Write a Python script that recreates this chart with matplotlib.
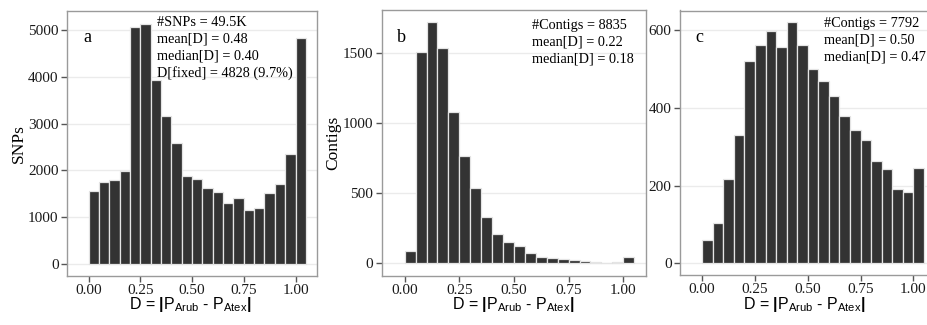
import matplotlib
matplotlib.use("Agg")
import matplotlib.pyplot as plt
import numpy as np

plt.rcParams["font.family"] = ["Liberation Serif", "DejaVu Serif"]
plt.rcParams["mathtext.fontset"] = "custom"
plt.rcParams["mathtext.rm"] = "Liberation Sans"
plt.rcParams["mathtext.bf"] = "Liberation Sans:bold"

# histogram counts per 0.05-wide bin of D (last bin holds D = 1)
snp_counts = [1548, 1756, 1799, 1978, 5071, 5143, 3936, 3164, 2588, 1871, 1821,
              1613, 1527, 1305, 1405, 1147, 1183, 1513, 1713, 2344, 4828]
contig_counts_b = [90, 1512, 1721, 1536, 1083, 769, 540, 329, 210, 152, 121,
                   76, 43, 36, 29, 21, 14, 7, 2, 10, 43]
contig_counts_c = [59, 103, 217, 330, 521, 561, 597, 555, 621, 561, 500,
                   470, 431, 378, 344, 317, 264, 243, 190, 184, 245]

letters = ["a", "b", "c"]
ylabels = ["SNPs", "Contigs", ""]
notes = [
    ["#SNPs = 49.5K", "mean[D] = 0.48", "median[D] = 0.40", "D[fixed] = 4828 (9.7%)"],
    ["#Contigs = 8835", "mean[D] = 0.22", "median[D] = 0.18"],
    ["#Contigs = 7792", "mean[D] = 0.50", "median[D] = 0.47"],
]
x_ticks = [0.0, 0.25, 0.5, 0.75, 1.0]
x_ticklabels = ["0.00", "0.25", "0.50", "0.75", "1.00"]
y_ticks = [[0, 1000, 2000, 3000, 4000, 5000], [0, 500, 1000, 1500], [0, 200, 400, 600]]
bin_width = 0.05
xlabel = r"D = $\mathbf{|}$P$_\mathrm{Arub}$ - P$_\mathrm{Atex}$$\mathbf{|}$"

W, H = 928, 325
fig = plt.figure(figsize=(W / 100, H / 100), dpi=100)

# panel boxes in pixels: left, right, top, bottom
boxes = [(67, 316.7, 11, 275.7), (381.7, 645.7, 10, 275.5), (680, 935, 10.5, 275)]
ylims = [(-257, 5413), (-87, 1809), (-30, 650)]
note_x = [156.7, 531.7, 824]
note_y0 = [22, 25, 23]
letter_x = [83, 397, 695]
xlabel_cx = [190, 513, 804]

for i, counts in enumerate([snp_counts, contig_counts_b, contig_counts_c]):
    l, r, t, b = boxes[i]
    ax = fig.add_axes([l / W, 1 - b / H, (r - l) / W, (b - t) / H])
    lefts = np.arange(len(counts)) * bin_width
    ax.set_axisbelow(True)
    ax.yaxis.grid(True, color="#ebebeb", lw=1)
    ax.bar(lefts, counts, width=bin_width, align="edge", color="#333333",
           edgecolor="#e4e4e4", linewidth=0.9)
    ax.set_xlim(-0.105, 1.1025)
    ax.set_ylim(*ylims[i])
    ax.set_xticks(x_ticks)
    ax.set_xticklabels(x_ticklabels)
    ax.set_yticks(y_ticks[i])
    ax.tick_params(labelsize=11, length=4, width=1, color="#555555",
                   labelcolor="#1a1a1a", pad=2)
    for s in ax.spines.values():
        s.set_color("#9a9a9a")
        s.set_linewidth(1)
    if ylabels[i]:
        ax.set_ylabel(ylabels[i], fontsize=12.5, labelpad=1)
    fig.text(xlabel_cx[i] / W, 1 - 309.5 / H, xlabel, fontsize=11.5,
             family=["Liberation Sans", "DejaVu Sans"], ha="center", va="baseline")
    fig.text(letter_x[i] / W, 1 - 37 / H, letters[i], fontsize=13,
             va="center", ha="left")
    for j, line in enumerate(notes[i]):
        fig.text(note_x[i] / W, 1 - (note_y0[i] + 17 * j) / H, line,
                 fontsize=10.3, va="center", ha="left")

fig.savefig("out.png", dpi=100)
